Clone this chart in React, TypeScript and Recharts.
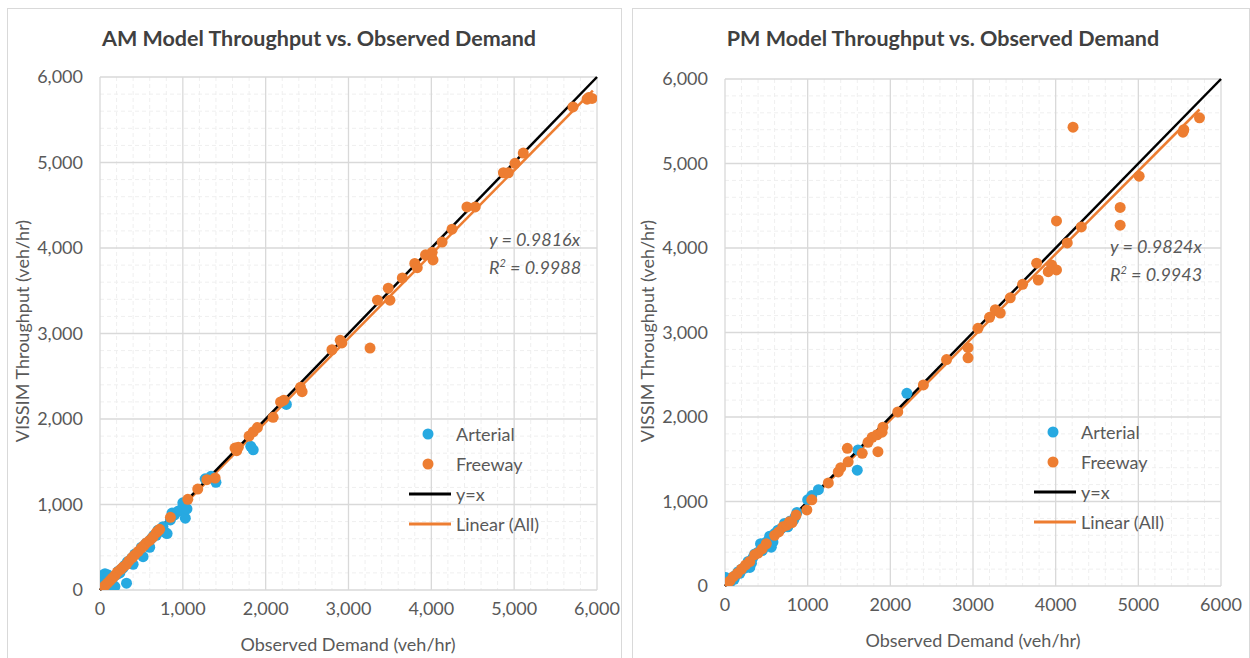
import { ScatterChart, Scatter, XAxis, YAxis, CartesianGrid, ReferenceLine } from 'recharts'

type Pt = { x: number; y: number }
const pts = (list: number[][]): Pt[] => list.map(([x, y]) => ({ x, y }))

// AM peak, observed demand vs VISSIM throughput
const amArterial = pts([
  [0, 0], [0, 30], [10, 10], [20, 60], [0, 150], [30, 170], [60, 190], [100, 175], [50, 40], [80, 80],
  [120, 100], [150, 130], [160, 30], [180, 40], [200, 180], [220, 220], [240, 200], [260, 250], [280, 260],
  [300, 290], [320, 80], [330, 330], [360, 320], [380, 370], [400, 300], [420, 420], [450, 430], [480, 460],
  [500, 500], [520, 390], [550, 540], [580, 560], [600, 500], [620, 600], [650, 640], [680, 640], [700, 700],
  [720, 690], [760, 740], [790, 670], [810, 660], [850, 820], [870, 900], [900, 880], [940, 920], [970, 930],
  [1000, 970], [1000, 1020], [1030, 840], [1050, 950], [1270, 1300], [1340, 1330], [1400, 1260],
  [1820, 1680], [1850, 1640], [2250, 2170],
])
const amFreeway = pts([
  [30, 20], [60, 50], [90, 80], [120, 110], [150, 140], [180, 170], [210, 210], [250, 240], [280, 270],
  [320, 300], [350, 340], [390, 380], [420, 410], [460, 450], [500, 490], [530, 520], [560, 550], [600, 580],
  [640, 620], [680, 670], [700, 690], [720, 710], [850, 850], [1060, 1060], [1180, 1180], [1290, 1290],
  [1390, 1310], [1630, 1660], [1650, 1630], [1670, 1670], [1800, 1800], [1850, 1850], [1900, 1900],
  [2090, 2020], [2180, 2200], [2220, 2220], [2420, 2370], [2440, 2320], [2800, 2810], [2900, 2920],
  [2920, 2890], [3260, 2830], [3350, 3390], [3480, 3530], [3500, 3390], [3650, 3650], [3800, 3820],
  [3830, 3770], [3930, 3920], [4010, 3950], [4020, 3860], [4130, 4070], [4250, 4220], [4430, 4480],
  [4530, 4480], [4870, 4880], [4930, 4880], [5010, 4990], [5110, 5110], [5710, 5650], [5880, 5740],
  [5900, 5760], [5940, 5750],
])

// PM peak
const pmArterial = pts([
  [0, 0], [0, 50], [10, 100], [20, 20], [40, 60], [60, 40], [90, 90], [110, 80], [130, 130], [160, 170],
  [180, 150], [200, 200], [230, 210], [250, 240], [280, 290], [300, 220], [320, 270], [340, 340], [360, 380],
  [400, 400], [430, 500], [450, 420], [480, 460], [500, 520], [540, 590], [560, 460], [580, 520], [600, 620],
  [640, 660], [680, 680], [720, 740], [760, 700], [790, 770], [830, 780], [850, 820], [870, 870],
  [1000, 1020], [1050, 1070], [1130, 1140], [1600, 1370], [1610, 1610], [2200, 2280],
])
const pmFreeway = pts([
  [20, 20], [60, 60], [100, 110], [150, 150], [200, 200], [250, 250], [300, 290], [360, 370], [400, 390],
  [450, 440], [500, 500], [600, 600], [650, 640], [700, 700], [750, 720], [780, 760], [810, 750],
  [860, 840], [990, 900], [1050, 1020], [1250, 1220], [1370, 1350], [1400, 1400], [1480, 1630],
  [1490, 1470], [1660, 1570], [1730, 1700], [1780, 1760], [1840, 1790], [1850, 1590], [1900, 1820],
  [1910, 1880], [2090, 2060], [2400, 2380], [2680, 2680], [2940, 2820], [2940, 2700], [3060, 3050],
  [3200, 3180], [3270, 3270], [3330, 3230], [3450, 3410], [3600, 3570], [3790, 3620], [3770, 3820],
  [3910, 3720], [3950, 3800], [4010, 3740], [4010, 4320], [4140, 4060], [4210, 5430], [4310, 4250],
  [4780, 4480], [4780, 4270], [5010, 4850], [5540, 5370], [5550, 5400], [5740, 5540],
])

const amSlope = 0.9816
const amR2 = '0.9988'
const amTrendEnd = 5950
const pmSlope = 0.9824
const pmR2 = '0.9943'
const pmTrendEnd = 5740

const majorTicks = [0, 1000, 2000, 3000, 4000, 5000, 6000]
const minorTicks = [
  200, 400, 600, 800, 1200, 1400, 1600, 1800, 2200, 2400, 2600, 2800, 3200, 3400, 3600, 3800,
  4200, 4400, 4600, 4800, 5200, 5400, 5600, 5800,
]

const BLUE = '#27A9E1'
const ORANGE = '#ED7D31'
const TEXT = '#595959'
const FONT = 'Lato, "Open Sans", sans-serif'

const withComma = (v: number) => v.toLocaleString('en-US')

const dot = (color: string) => (props: any) => (
  <circle cx={props.cx} cy={props.cy} r={5.5} fill={color} />
)

type PanelProps = {
  left: number
  width: number
  title: string
  margin: { top: number; right: number; bottom: number; left: number }
  arterial: Pt[]
  freeway: Pt[]
  slope: number
  r2: string
  trendEnd: number
  xComma: boolean
  titleX: number
  xTitleX: number
  xTitleY: number
  legendX: number
  legendY: number
  eqX: number
  eqY: number
}

function Panel(p: PanelProps) {
  // minor grid sits on the same 0..6000 domain as the axes
  const minorX = ({ offset }: any) => minorTicks.map((v) => offset.left + (v / 6000) * offset.width)
  const minorY = ({ offset }: any) => minorTicks.map((v) => offset.top + offset.height - (v / 6000) * offset.height)

  return (
    <div style={{ position: 'absolute', left: p.left, top: 0, width: p.width, height: 658, fontFamily: FONT }}>
      <ScatterChart width={p.width} height={658} margin={p.margin}>
        <CartesianGrid
          stroke="#efefef"
          strokeDasharray="4 3"
          verticalCoordinatesGenerator={minorX}
          horizontalCoordinatesGenerator={minorY}
        />
        <CartesianGrid stroke="#d9d9d9" strokeWidth={1.3} />
        <XAxis
          type="number"
          dataKey="x"
          domain={[0, 6000]}
          ticks={majorTicks}
          tickFormatter={p.xComma ? withComma : (v: number) => String(v)}
          axisLine={false}
          tickLine={false}
          height={30}
          tickMargin={6}
          tick={{ fill: TEXT, fontSize: 18, fontFamily: FONT }}
          allowDataOverflow
        />
        <YAxis
          type="number"
          dataKey="y"
          domain={[0, 6000]}
          ticks={majorTicks}
          tickFormatter={withComma}
          axisLine={false}
          tickLine={false}
          width={70}
          tickMargin={11}
          tick={{ fill: TEXT, fontSize: 18, fontFamily: FONT }}
          allowDataOverflow
        />
        <Scatter name="Arterial" data={p.arterial} shape={dot(BLUE)} isAnimationActive={false} />
        <Scatter name="Freeway" data={p.freeway} shape={dot(ORANGE)} isAnimationActive={false} />
        <ReferenceLine
          segment={[{ x: 0, y: 0 }, { x: p.trendEnd, y: p.trendEnd * p.slope }]}
          stroke={ORANGE}
          strokeWidth={2.5}
        />
        <ReferenceLine segment={[{ x: 0, y: 0 }, { x: 6000, y: 6000 }]} stroke="#000" strokeWidth={2.5} />
      </ScatterChart>

      <div style={{ position: 'absolute', left: 7, top: 8, right: 0, bottom: -2, border: '1px solid #d9d9d9', pointerEvents: 'none' }} />

      <div style={{ position: 'absolute', left: p.titleX, top: 25, transform: 'translateX(-50%)', whiteSpace: 'nowrap', fontSize: 21.5, fontWeight: 700, color: '#404040' }}>
        {p.title}
      </div>

      <div style={{ position: 'absolute', left: p.xTitleX, top: p.xTitleY, transform: 'translateX(-50%)', whiteSpace: 'nowrap', fontSize: 18, color: TEXT }}>
        Observed Demand (veh/hr)
      </div>

      <div style={{ position: 'absolute', left: 22, top: 331, transform: 'translate(-50%, -50%) rotate(-90deg)', whiteSpace: 'nowrap', fontSize: 18, color: TEXT }}>
        VISSIM Throughput (veh/hr)
      </div>

      <div style={{ position: 'absolute', left: p.eqX, top: p.eqY, fontSize: 18, fontStyle: 'italic', color: TEXT, lineHeight: '24px', whiteSpace: 'nowrap' }}>
        <div>y = {p.slope}x</div>
        <div>R<sup style={{ fontSize: 11 }}>2</sup> = {p.r2}</div>
      </div>

      <div style={{ position: 'absolute', left: p.legendX, top: p.legendY, fontSize: 18, color: TEXT, lineHeight: '30px' }}>
        {[
          { label: 'Arterial', kind: 'dot', color: BLUE },
          { label: 'Freeway', kind: 'dot', color: ORANGE },
          { label: 'y=x', kind: 'line', color: '#000' },
          { label: 'Linear (All)', kind: 'line', color: ORANGE },
        ].map((item) => (
          <div key={item.label} style={{ display: 'flex', alignItems: 'center', height: 30 }}>
            <svg width={42} height={14} style={{ marginRight: 5 }}>
              {item.kind === 'dot' ? (
                <circle cx={19} cy={7} r={5.5} fill={item.color} />
              ) : (
                <line x1={0} y1={7} x2={42} y2={7} stroke={item.color} strokeWidth={3} />
              )}
            </svg>
            <span>{item.label}</span>
          </div>
        ))}
      </div>
    </div>
  )
}

export default function App() {
  return (
    <div style={{ position: 'absolute', left: 0, top: 0, width: 1250, height: 658, background: '#fff', overflow: 'hidden' }}>
      <Panel
        left={0}
        width={622}
        title="AM Model Throughput vs. Observed Demand"
        margin={{ top: 77, right: 25, bottom: 38, left: 30 }}
        arterial={amArterial}
        freeway={amFreeway}
        slope={amSlope}
        r2={amR2}
        trendEnd={amTrendEnd}
        xComma
        titleX={319}
        xTitleX={348}
        xTitleY={633}
        legendX={409}
        legendY={419}
        eqX={489}
        eqY={227}
      />
      <Panel
        left={625}
        width={625}
        title="PM Model Throughput vs. Observed Demand"
        margin={{ top: 79, right: 29, bottom: 42, left: 30 }}
        arterial={pmArterial}
        freeway={pmFreeway}
        slope={pmSlope}
        r2={pmR2}
        trendEnd={pmTrendEnd}
        xComma={false}
        titleX={318}
        xTitleX={348}
        xTitleY={629}
        legendX={409}
        legendY={417}
        eqX={485}
        eqY={234}
      />
    </div>
  )
}
